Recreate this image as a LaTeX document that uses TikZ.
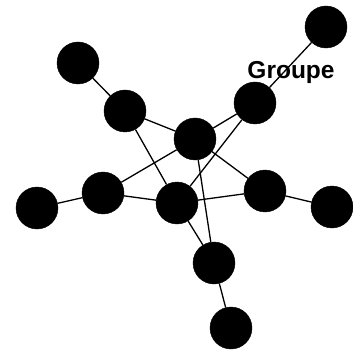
\documentclass[tikz,border=0pt]{standalone}
\usepackage{fontspec}
\setmainfont{Liberation Sans}
\begin{document}
\begin{tikzpicture}[x=1pt,y=-1pt,
  dot/.style={circle,fill=black,draw=black,minimum size=42pt,inner sep=0pt},
  link/.style={line width=1.3pt,black}]
\useasboundingbox (0,0) rectangle (352,352);
\node[font=\bfseries\fontsize{24.5}{25}\selectfont,inner sep=0pt] (lab) at (291,72) {Groupe};
\node[dot] (A) at (78,63) {};
\node[dot] (B) at (326,27) {};
\node[dot] (C) at (125,111) {};
\node[dot] (D) at (255,103) {};
\node[dot] (E) at (195,139) {};
\node[dot] (F) at (103,193) {};
\node[dot] (G) at (37,208) {};
\node[dot] (H) at (177,203) {};
\node[dot] (I) at (265,191) {};
\node[dot] (J) at (332,207) {};
\node[dot] (K) at (214,263) {};
\node[dot] (L) at (231,328) {};
\draw[link] (A) -- (C);
\draw[link] (B) -- (D);
\draw[link] (C) -- (E);
\draw[link] (C) -- (H);
\draw[link] (E) -- (D);
\draw[link] (E) -- (F);
\draw[link] (E) -- (I);
\draw[link] (E) -- (K);
\draw[link] (D) -- (H);
\draw[link] (F) -- (G);
\draw[link] (F) -- (H);
\draw[link] (H) -- (I);
\draw[link] (H) -- (K);
\draw[link] (I) -- (J);
\draw[link] (K) -- (L);
\end{tikzpicture}
\end{document}
